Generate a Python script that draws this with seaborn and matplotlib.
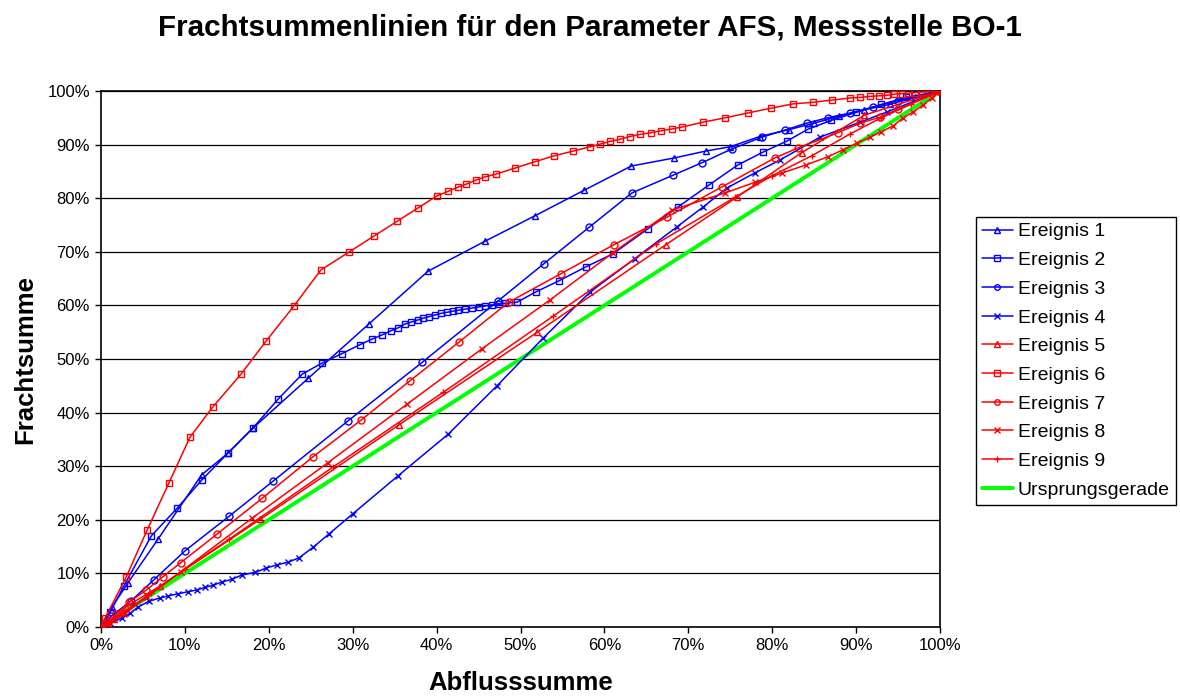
import matplotlib
matplotlib.use("Agg")
import matplotlib.pyplot as plt
from matplotlib.ticker import FuncFormatter, MultipleLocator
import seaborn as sns
import pandas as pd

# Cumulative discharge (x, %) and cumulative load (y, %) per event
e1_x = [0.0, 1.3, 3.2, 6.8, 12.0, 15.1, 18.1, 24.7, 31.9, 39.0, 45.8, 51.7, 57.6, 63.2, 68.3, 72.1, 75.0, 78.5, 82.0, 85.0, 88.0, 91.0, 94.0, 97.0, 100.0]
e1_y = [0.0, 3.7, 8.2, 16.4, 28.4, 32.4, 37.1, 46.4, 56.5, 66.4, 72.0, 76.7, 81.5, 86.0, 87.5, 88.8, 89.6, 91.5, 92.8, 94.0, 95.3, 96.5, 97.5, 98.8, 100.0]

e2_x = [0.0, 1.1, 2.7, 6.0, 9.1, 12.0, 15.1, 18.1, 21.1, 24.0, 26.3, 28.7, 30.9, 32.3, 33.5, 34.6, 35.4, 36.2, 37.0, 37.8, 38.4, 39.1, 39.8, 40.5, 41.2, 41.9, 42.6, 43.4, 44.2, 45.0, 45.8, 46.6, 47.4, 48.2, 49.6, 51.8, 54.6, 57.8, 61.0, 65.2, 68.8, 72.5, 75.9, 78.9, 81.8, 84.3, 87.0, 90.0, 93.0, 96.0, 100.0]
e2_y = [0.0, 2.8, 7.6, 17.0, 22.2, 27.4, 32.4, 37.1, 42.5, 47.2, 49.2, 51.0, 52.7, 53.7, 54.5, 55.3, 55.8, 56.5, 56.9, 57.3, 57.6, 57.9, 58.2, 58.5, 58.7, 58.9, 59.1, 59.3, 59.5, 59.7, 59.9, 60.1, 60.3, 60.4, 60.6, 62.5, 64.6, 67.2, 69.6, 74.3, 78.4, 82.5, 86.2, 88.6, 90.7, 92.9, 94.5, 96.0, 97.5, 98.8, 100.0]

e3_x = [0.0, 1.2, 3.6, 6.3, 10.0, 15.3, 20.5, 29.4, 38.3, 47.3, 52.8, 58.2, 63.3, 68.2, 71.6, 75.2, 78.8, 81.5, 84.1, 86.6, 89.3, 92.0, 95.0, 100.0]
e3_y = [0.0, 2.0, 4.9, 8.8, 14.2, 20.7, 27.2, 38.4, 49.4, 60.8, 67.8, 74.6, 81.0, 84.3, 86.6, 89.2, 91.4, 92.7, 94.0, 95.0, 95.9, 97.0, 98.2, 100.0]

e4_x = [0.0, 1.1, 2.5, 3.5, 4.4, 5.7, 7.0, 8.0, 9.2, 10.4, 11.4, 12.4, 13.4, 14.4, 15.6, 16.8, 18.4, 19.7, 21.0, 22.3, 23.6, 25.3, 27.2, 30.0, 35.4, 41.4, 47.2, 52.7, 58.3, 63.6, 68.6, 71.8, 74.6, 77.9, 80.9, 85.7, 90.5, 93.7, 100.0]
e4_y = [0.0, 0.7, 1.7, 2.6, 3.7, 4.8, 5.4, 5.8, 6.2, 6.6, 6.9, 7.4, 7.8, 8.4, 8.9, 9.7, 10.2, 11.0, 11.6, 12.1, 12.9, 14.9, 17.4, 21.1, 28.2, 36.0, 45.0, 53.9, 62.5, 68.7, 74.6, 78.4, 81.9, 84.7, 87.1, 91.4, 94.2, 96.1, 100.0]

e5_x = [0.0, 1.5, 3.0, 7.0, 19.0, 35.5, 52.0, 67.3, 75.8, 83.5, 91.0, 100.0]
e5_y = [0.0, 1.5, 3.8, 7.6, 20.1, 37.7, 55.0, 71.3, 80.2, 88.5, 95.5, 100.0]

e6_x = [0.0, 0.5, 3.0, 5.5, 8.1, 10.6, 13.3, 16.7, 19.7, 23.0, 26.2, 29.6, 32.5, 35.3, 37.8, 40.0, 41.4, 42.6, 43.5, 44.7, 45.8, 47.1, 49.3, 51.7, 54.0, 56.3, 58.3, 59.5, 60.7, 61.9, 63.0, 64.2, 65.5, 66.8, 68.0, 69.3, 71.8, 74.4, 77.1, 79.9, 82.5, 84.9, 87.1, 89.3, 90.5, 91.7, 92.7, 93.7, 94.5, 95.5, 96.2, 97.0, 97.8, 98.6, 99.4, 100.0]
e6_y = [0.0, 1.7, 9.3, 18.1, 26.9, 35.4, 41.0, 47.2, 53.4, 59.9, 66.6, 70.0, 72.9, 75.7, 78.2, 80.4, 81.3, 82.1, 82.6, 83.4, 84.0, 84.5, 85.6, 86.8, 87.9, 88.8, 89.6, 90.1, 90.6, 91.0, 91.5, 91.9, 92.2, 92.6, 92.9, 93.3, 94.2, 95.0, 95.9, 96.8, 97.6, 97.9, 98.3, 98.7, 98.8, 99.0, 99.1, 99.2, 99.4, 99.5, 99.6, 99.7, 99.8, 99.9, 99.95, 100.0]

e7_x = [0.0, 0.8, 1.8, 3.3, 5.4, 7.4, 9.5, 13.8, 19.2, 25.3, 31.0, 36.8, 42.7, 48.6, 54.8, 61.1, 67.5, 74.0, 80.3, 83.1, 87.8, 90.5, 92.8, 95.0, 100.0]
e7_y = [0.0, 0.9, 2.4, 4.6, 6.9, 9.4, 12.0, 17.3, 24.0, 31.8, 38.6, 45.9, 53.2, 60.6, 65.9, 71.3, 76.5, 82.1, 87.5, 89.4, 92.2, 94.0, 95.1, 96.6, 100.0]

e8_x = [0.0, 0.8, 2.8, 5.5, 9.5, 18.0, 27.0, 36.5, 45.4, 53.5, 61.0, 68.1, 74.4, 78.0, 81.2, 84.0, 86.6, 88.4, 90.1, 91.7, 93.0, 94.4, 95.6, 96.8, 98.0, 99.0, 100.0]
e8_y = [0.0, 0.5, 2.5, 5.6, 10.3, 20.3, 30.6, 41.6, 51.9, 61.0, 69.8, 77.8, 81.0, 83.0, 84.7, 86.2, 87.7, 89.0, 90.3, 91.4, 92.4, 93.5, 95.0, 96.1, 97.4, 98.7, 100.0]

e9_x = [0.0, 1.0, 3.0, 6.0, 10.0, 15.3, 27.7, 40.8, 53.9, 66.2, 75.6, 80.0, 84.7, 89.3, 93.0, 96.5, 100.0]
e9_y = [0.0, 1.0, 3.0, 6.4, 10.8, 16.4, 29.9, 43.8, 58.0, 71.5, 80.2, 84.2, 87.9, 92.0, 95.0, 97.5, 100.0]

line_x = [0.0, 100.0]
line_y = [0.0, 100.0]

labels = ["Ereignis 1", "Ereignis 2", "Ereignis 3", "Ereignis 4", "Ereignis 5",
          "Ereignis 6", "Ereignis 7", "Ereignis 8", "Ereignis 9", "Ursprungsgerade"]
series_x = [e1_x, e2_x, e3_x, e4_x, e5_x, e6_x, e7_x, e8_x, e9_x, line_x]
series_y = [e1_y, e2_y, e3_y, e4_y, e5_y, e6_y, e7_y, e8_y, e9_y, line_y]

frames = []
for name, xs, ys in zip(labels, series_x, series_y):
    frames.append(pd.DataFrame({"Abfluss": xs, "Fracht": ys, "Serie": name,
                                "Punkt": range(len(xs))}))
df = pd.concat(frames, ignore_index=True)

styles = {
    "Ereignis 1": ("#0000FF", "^"),
    "Ereignis 2": ("#0000FF", "s"),
    "Ereignis 3": ("#0000FF", "o"),
    "Ereignis 4": ("#0000FF", "x"),
    "Ereignis 5": ("#FF0000", "^"),
    "Ereignis 6": ("#FF0000", "s"),
    "Ereignis 7": ("#FF0000", "o"),
    "Ereignis 8": ("#FF0000", "x"),
    "Ereignis 9": ("#FF0000", "+"),
}

sns.set_style("white")
plt.rcParams["font.family"] = ["Liberation Sans", "DejaVu Sans"]
plt.rcParams["text.color"] = "black"
plt.rcParams["axes.labelcolor"] = "black"
plt.rcParams["xtick.color"] = "black"
plt.rcParams["ytick.color"] = "black"

fig = plt.figure(figsize=(11.8, 6.98), dpi=100)
ax = fig.add_axes([101 / 1180, 1 - 627 / 698, 839 / 1180, 536 / 698])

for name in labels:
    sub = df[df["Serie"] == name]
    if name == "Ursprungsgerade":
        sns.lineplot(data=sub, x="Abfluss", y="Fracht", ax=ax, sort=False,
                     estimator=None, color="#00FF00", linewidth=2.8,
                     label=name, zorder=3)
    else:
        color, marker = styles[name]
        sns.lineplot(data=sub, x="Abfluss", y="Fracht", ax=ax, sort=False,
                     estimator=None, color=color, linewidth=1.1,
                     marker=marker, markersize=5, markerfacecolor="none",
                     markeredgecolor=color, markeredgewidth=1.0,
                     label=name, zorder=4)

ax.set_xlim(0, 100)
ax.set_ylim(0, 100)
ax.xaxis.set_major_locator(MultipleLocator(10))
ax.yaxis.set_major_locator(MultipleLocator(10))
pct = FuncFormatter(lambda v, _: f"{v:.0f}%")
ax.xaxis.set_major_formatter(pct)
ax.yaxis.set_major_formatter(pct)
ax.tick_params(axis="both", which="major", direction="out", length=4,
               width=1, color="black", labelcolor="black", labelsize=12,
               pad=4, bottom=True, left=True)
ax.yaxis.grid(True, color="black", linewidth=0.9)
ax.xaxis.grid(False)
ax.set_axisbelow(True)
for sp in ax.spines.values():
    sp.set_color("black")
    sp.set_linewidth(1.2)

ax.set_xlabel("Abflusssumme", fontsize=18.5, fontweight="bold", labelpad=13)
ax.set_ylabel("Frachtsumme", fontsize=18.5, fontweight="bold", labelpad=7)
fig.text(0.5, 1 - 28 / 698, "Frachtsummenlinien für den Parameter AFS, Messstelle BO-1",
         ha="center", va="center", fontsize=21.3, fontweight="bold")

leg = ax.legend(loc="upper left", bbox_to_anchor=(976 / 1180, 1 - 217 / 698),
                bbox_transform=fig.transFigure, frameon=True, fancybox=False,
                framealpha=1, edgecolor="black", fontsize=14, handlelength=1.6,
                handletextpad=0.25, labelspacing=0.57, borderpad=0.3,
                borderaxespad=0, markerscale=0.8)
leg.get_frame().set_linewidth(1.0)

fig.savefig("out.png", dpi=100, facecolor="white")
